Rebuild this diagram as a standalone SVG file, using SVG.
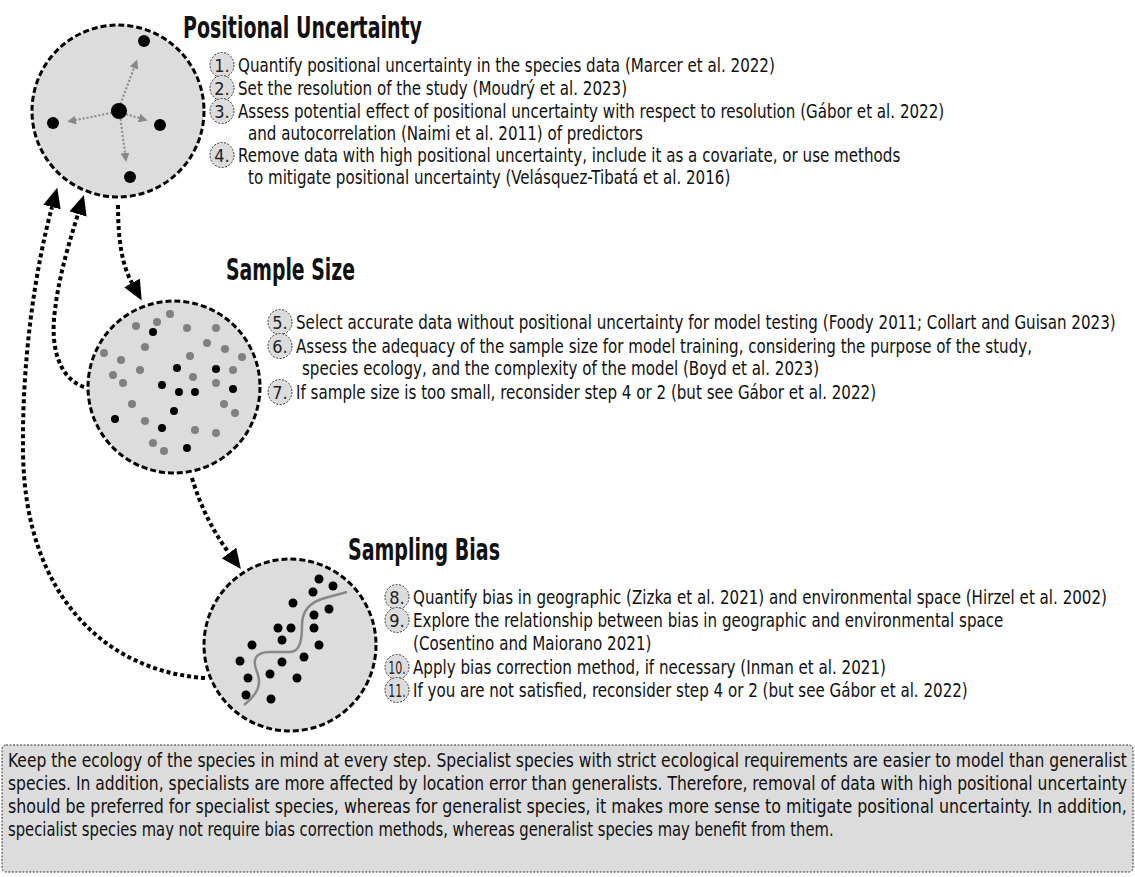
<svg xmlns="http://www.w3.org/2000/svg" width="1135" height="877" viewBox="0 0 1135 877">
<style>
.circ{fill:#dcdcdc;stroke:#000;stroke-width:3;stroke-dasharray:6 3}
.hd{font-family:"DejaVu Sans Condensed","Liberation Sans",sans-serif;font-weight:bold;font-size:30px;fill:#111}
.it{font-family:"DejaVu Sans Condensed","Liberation Sans",sans-serif;font-size:20px;fill:#111}
.bd{fill:#dcdcdc;stroke:#333;stroke-width:1;stroke-dasharray:2 1.5}
.bn{font-family:"DejaVu Sans Condensed","Liberation Sans",sans-serif;font-size:18px;fill:#222;text-anchor:middle}
.bk{fill:#000}
.gr{fill:#808080}
.conn{fill:none;stroke:#000;stroke-width:4;stroke-dasharray:4 3}
.garr{fill:none;stroke:#888;stroke-width:2;stroke-dasharray:2 2}
.note{font-family:"DejaVu Sans Condensed","Liberation Sans",sans-serif;font-size:19px;fill:#111}
</style>
<defs>
<marker id="ah" markerUnits="userSpaceOnUse" markerWidth="20" markerHeight="18" viewBox="0 0 20 18" refX="0" refY="9" orient="auto"><path d="M0,0 L20,9 L0,18 z" fill="#000"/></marker>
<marker id="ga" markerUnits="userSpaceOnUse" markerWidth="9" markerHeight="9" viewBox="0 0 9 9" refX="0" refY="4.5" orient="auto"><path d="M0,0 L9,4.5 L0,9 z" fill="#888"/></marker>
</defs>

<g id="connectors">
<path class="conn" d="M118,205 C118,240 122,265 132,283" marker-end="url(#ah)"/>
<path class="conn" d="M84,387 C58,378 50,345 55,310 C59,275 70,240 78,214" marker-end="url(#ah)"/>
<path class="conn" d="M205,678 C110,672 24,600 23,450 C22,360 35,270 52,207" marker-end="url(#ah)"/>
<path class="conn" d="M192,478 C200,505 212,530 229,553" marker-end="url(#ah)"/>
</g>

<g id="positional-uncertainty">
<circle class="circ" cx="118" cy="111" r="86"/>
<path class="garr" d="M119,108 L134,68" marker-end="url(#ga)"/>
<path class="garr" d="M116,112 L76,120" marker-end="url(#ga)"/>
<path class="garr" d="M122,113 L139,118" marker-end="url(#ga)"/>
<path class="garr" d="M120,115 L125,153" marker-end="url(#ga)"/>
<circle class="bk" cx="119" cy="111" r="8"/>
<circle class="bk" cx="144" cy="41" r="6"/>
<circle class="bk" cx="53" cy="123" r="6"/>
<circle class="bk" cx="160" cy="125" r="6"/>
<circle class="bk" cx="130" cy="177" r="6"/>
<text class="hd" x="183" y="38" textLength="239" lengthAdjust="spacingAndGlyphs">Positional Uncertainty</text>
<ellipse class="bd" cx="222" cy="65" rx="12" ry="12.5"/><text class="bn" x="222" y="72">1.</text>
<text class="it" transform="translate(238,72) scale(0.84,1)">Quantify positional uncertainty in the species data (Marcer et al. 2022)</text>
<ellipse class="bd" cx="222" cy="88" rx="12" ry="12.5"/><text class="bn" x="222" y="95">2.</text>
<text class="it" transform="translate(238,95) scale(0.84,1)">Set the resolution of the study (Moudrý et al. 2023)</text>
<ellipse class="bd" cx="222" cy="111" rx="12" ry="12.5"/><text class="bn" x="222" y="118">3.</text>
<text class="it" transform="translate(238,118) scale(0.84,1)">Assess potential effect of positional uncertainty  with respect to resolution (Gábor et al. 2022)</text>
<text class="it" transform="translate(248,140) scale(0.84,1)">and autocorrelation (Naimi et al. 2011) of predictors</text>
<ellipse class="bd" cx="222" cy="155" rx="12" ry="12.5"/><text class="bn" x="222" y="162">4.</text>
<text class="it" transform="translate(238,162) scale(0.84,1)">Remove data with high positional uncertainty,  include it as a covariate, or use methods</text>
<text class="it" transform="translate(248,184) scale(0.84,1)">to mitigate positional uncertainty  (Velásquez-Tibatá et al. 2016)</text>
</g>

<g id="sample-size">
<circle class="circ" cx="174" cy="387" r="86"/>
<g class="gr">
<circle cx="170" cy="314" r="4"/><circle cx="136" cy="326" r="4"/><circle cx="157" cy="322" r="4"/><circle cx="187" cy="328" r="4"/><circle cx="216" cy="328" r="4"/><circle cx="145" cy="347" r="4"/><circle cx="207" cy="343" r="4"/><circle cx="225" cy="349" r="4"/><circle cx="104" cy="353" r="4"/><circle cx="121" cy="360" r="4"/><circle cx="190" cy="356" r="4"/><circle cx="140" cy="370" r="4"/><circle cx="113" cy="375" r="4"/><circle cx="123" cy="383" r="4"/><circle cx="193" cy="377" r="4"/><circle cx="216" cy="383" r="4"/><circle cx="233" cy="370" r="4"/><circle cx="242" cy="357" r="4"/><circle cx="132" cy="404" r="4"/><circle cx="224" cy="404" r="4"/><circle cx="235" cy="413" r="4"/><circle cx="145" cy="421" r="4"/><circle cx="195" cy="430" r="4"/><circle cx="216" cy="433" r="4"/><circle cx="153" cy="443" r="4"/><circle cx="164" cy="451" r="4"/>
</g>
<g class="bk">
<circle cx="153" cy="332" r="4"/><circle cx="177" cy="368" r="4"/><circle cx="216" cy="369" r="4"/><circle cx="162" cy="385" r="4"/><circle cx="179" cy="392" r="4"/><circle cx="195" cy="392" r="4"/><circle cx="233" cy="389" r="4"/><circle cx="174" cy="411" r="4"/><circle cx="115" cy="419" r="4"/><circle cx="162" cy="428" r="4"/><circle cx="187" cy="448" r="4"/>
</g>
<text class="hd" x="226" y="280" textLength="129" lengthAdjust="spacingAndGlyphs">Sample Size</text>
<ellipse class="bd" cx="280" cy="322" rx="12" ry="12.5"/><text class="bn" x="280" y="329">5.</text>
<text class="it" transform="translate(296,329) scale(0.84,1)">Select accurate data without positional uncertainty for model testing (Foody 2011; Collart and Guisan 2023)</text>
<ellipse class="bd" cx="280" cy="346" rx="12" ry="12.5"/><text class="bn" x="280" y="353">6.</text>
<text class="it" transform="translate(296,353) scale(0.84,1)">Assess the adequacy of the sample size for model training, considering the purpose of the study,</text>
<text class="it" transform="translate(302,375) scale(0.84,1)">species ecology, and the complexity of the model (Boyd et al. 2023)</text>
<ellipse class="bd" cx="280" cy="392" rx="12" ry="12.5"/><text class="bn" x="280" y="399">7.</text>
<text class="it" transform="translate(296,399) scale(0.84,1)">If sample size is too small, reconsider step 4 or 2 (but see Gábor et al. 2022)</text>
</g>

<g id="sampling-bias">
<circle class="circ" cx="290" cy="645" r="86"/>
<path d="M244,705 C258,694 262,684 257,672 C252,660 255,652 270,652 L290,652 C300,652 302,640 302,625 C302,610 310,602 325,598 L347,592" fill="none" stroke="#888" stroke-width="2.5"/>
<g class="bk">
<circle cx="319" cy="579" r="4.5"/><circle cx="333" cy="586" r="4.5"/><circle cx="313" cy="592" r="4.5"/><circle cx="293" cy="603" r="4.5"/><circle cx="329" cy="609" r="4.5"/><circle cx="314" cy="615" r="4.5"/><circle cx="278" cy="628" r="4.5"/><circle cx="291" cy="628" r="4.5"/><circle cx="314" cy="628" r="4.5"/><circle cx="282" cy="640" r="4.5"/><circle cx="319" cy="645" r="4.5"/><circle cx="252" cy="645" r="4.5"/><circle cx="304" cy="657" r="4.5"/><circle cx="240" cy="661" r="4.5"/><circle cx="282" cy="662" r="4.5"/><circle cx="248" cy="678" r="4.5"/><circle cx="270" cy="674" r="4.5"/><circle cx="297" cy="678" r="4.5"/><circle cx="246" cy="695" r="4.5"/><circle cx="271" cy="699" r="4.5"/>
</g>
<text class="hd" x="348" y="560" textLength="152" lengthAdjust="spacingAndGlyphs">Sampling Bias</text>
<ellipse class="bd" cx="397" cy="597" rx="12" ry="12.5"/><text class="bn" x="397" y="604">8.</text>
<text class="it" transform="translate(413,604) scale(0.84,1)">Quantify bias in geographic (Zizka et al. 2021) and environmental space (Hirzel et al. 2002)</text>
<ellipse class="bd" cx="397" cy="620" rx="12" ry="12.5"/><text class="bn" x="397" y="627">9.</text>
<text class="it" transform="translate(413,627) scale(0.84,1)">Explore the relationship between bias in geographic and environmental space</text>
<text class="it" transform="translate(413,650) scale(0.84,1)">(Cosentino and Maiorano 2021)</text>
<ellipse class="bd" cx="397" cy="667" rx="12" ry="12.5"/><text class="bn" transform="translate(397,674) scale(0.68,1)">10.</text>
<text class="it" transform="translate(413,674) scale(0.84,1)">Apply bias correction method, if necessary (Inman et al. 2021)</text>
<ellipse class="bd" cx="397" cy="690" rx="12" ry="12.5"/><text class="bn" transform="translate(397,697) scale(0.68,1)">11.</text>
<text class="it" transform="translate(413,697) scale(0.84,1)">If you are not satisfied, reconsider step 4 or 2 (but see Gábor et al. 2022)</text>
</g>

<g id="note">
<rect x="2" y="745" width="1131" height="127" rx="4" fill="#dcdcdc" stroke="#333" stroke-width="1" stroke-dasharray="2 1.5"/>
<text class="note" transform="translate(8,767) scale(0.86,1)" textLength="1301" lengthAdjust="spacingAndGlyphs">Keep the ecology of the species in mind at every step. Specialist species with strict ecological requirements are easier to model than generalist</text>
<text class="note" transform="translate(8,790) scale(0.86,1)" textLength="1301" lengthAdjust="spacingAndGlyphs">species. In addition, specialists are more affected by location error than generalists. Therefore, removal of data with high positional uncertainty</text>
<text class="note" transform="translate(8,813) scale(0.86,1)" textLength="1301" lengthAdjust="spacingAndGlyphs">should be preferred for specialist species, whereas for generalist species, it makes more sense to mitigate positional uncertainty. In addition,</text>
<text class="note" transform="translate(8,836) scale(0.86,1)" textLength="960" lengthAdjust="spacingAndGlyphs">specialist species may not require bias correction methods, whereas generalist species may benefit from them.</text>
</g>
</svg>
